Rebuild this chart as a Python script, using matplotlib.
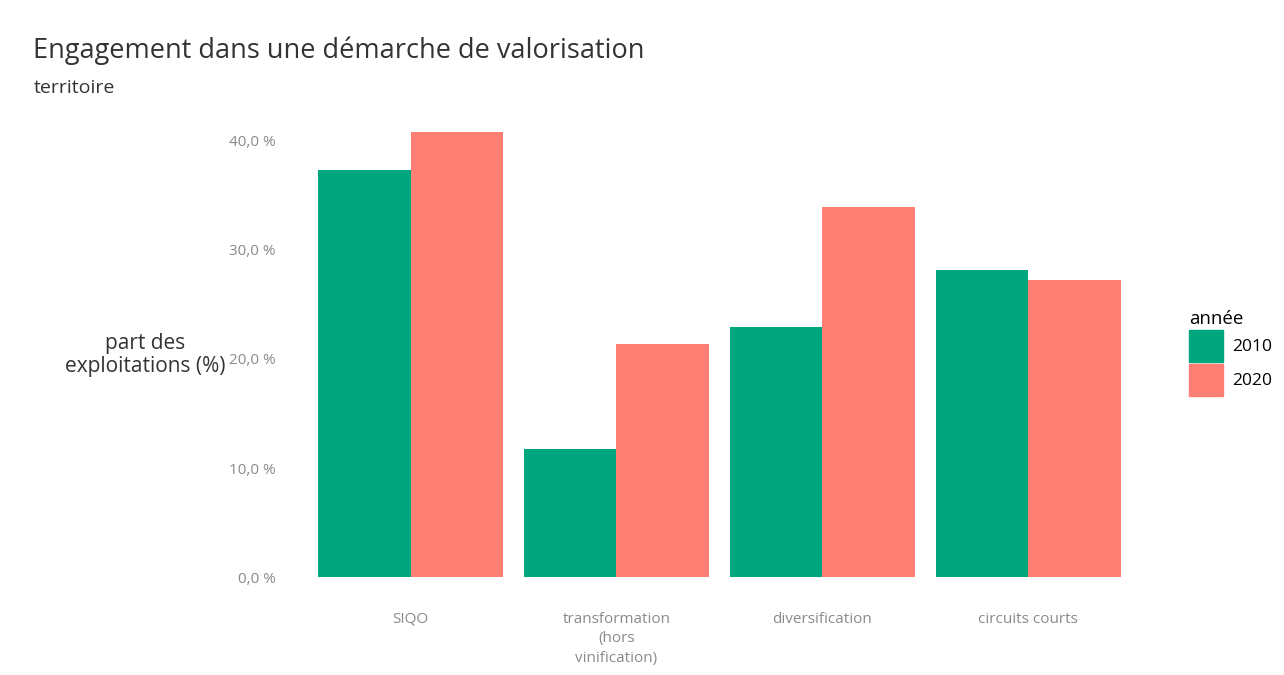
import numpy as np
import matplotlib
matplotlib.use("Agg")
import matplotlib.pyplot as plt
from matplotlib.patches import Patch

plt.rcParams['font.family'] = ['Open Sans', 'DejaVu Sans']

categories = ["SIQO", "transformation\n(hors\nvinification)", "diversification", "circuits courts"]
years = ["2010", "2020"]
part_2010 = [37.3, 11.7, 22.9, 28.1]
part_2020 = [40.8, 21.4, 33.9, 27.2]
colors = {"2010": "#00A77E", "2020": "#FF7F74"}

fig = plt.figure(figsize=(12.84, 6.75), dpi=100)
ax = fig.add_axes([0.2235, 0.145, 0.6735, 0.679])

x = np.arange(len(categories))
w = 0.45
ax.bar(x - w / 2, part_2010, width=w, color=colors["2010"], linewidth=0)
ax.bar(x + w / 2, part_2020, width=w, color=colors["2020"], linewidth=0)

ax.set_xlim(-0.6, len(categories) - 0.4)
ax.set_ylim(0, 42)
ax.set_yticks([0, 10, 20, 30, 40])
ax.set_yticklabels([f"{v:.1f} %".replace(".", ",") for v in [0, 10, 20, 30, 40]])
ax.set_xticks(x)
ax.set_xticklabels(categories, linespacing=1.4)
ax.tick_params(axis="both", length=0, labelsize=11, colors="#8a8a8a")
ax.tick_params(axis="x", pad=25)
ax.tick_params(axis="y", pad=8)
for s in ax.spines.values():
    s.set_visible(False)

ax.set_ylabel("part des\nexploitations (%)", rotation=0, fontsize=15,
              color="#333333", ha="center", va="center", labelpad=0, linespacing=1.1)
ax.yaxis.set_label_coords(-0.164, 0.485)

fig.text(0.026, 0.925, "Engagement dans une démarche de valorisation",
         fontsize=19.5, color="#333333", va="center")
fig.text(0.026, 0.87, "territoire", fontsize=14, color="#333333", va="center")

handles = [Patch(color=colors[y], label=y) for y in years]
leg = fig.legend(handles=handles, title="année", loc="center left",
                 bbox_to_anchor=(0.918, 0.477), frameon=False, fontsize=12.5,
                 title_fontsize=13.5, handlelength=1.95, handleheight=2.45,
                 handletextpad=0.5, labelspacing=0.1, borderaxespad=0.2)
leg._legend_box.align = "left"

fig.savefig("out.png", dpi=100, facecolor="white")
